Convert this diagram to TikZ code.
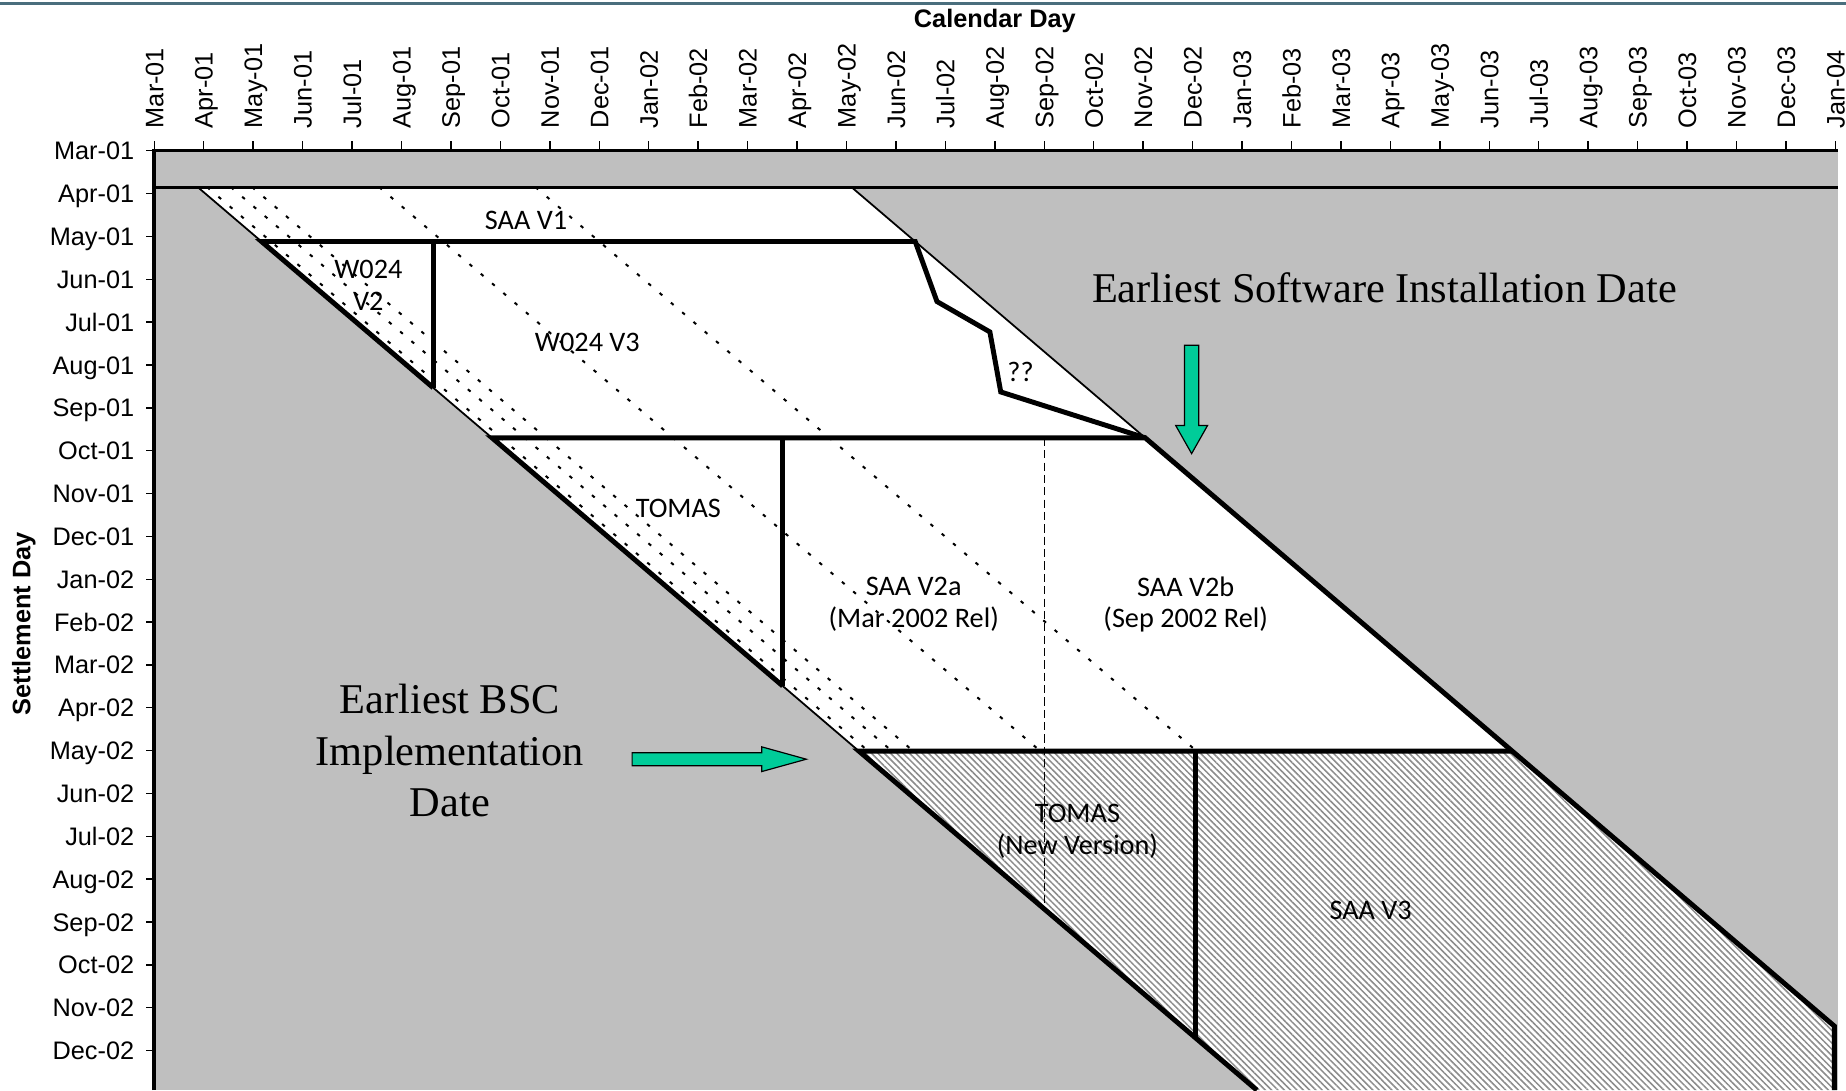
\documentclass[tikz,border=0pt]{standalone}
\usepackage{fontspec}
\usepackage{xcolor}
\usepackage{tikz}
\usetikzlibrary{
	shapes.arrows,						% Green block arrows
	patterns.meta						% Hatching of the last version area
}
\newfontfamily\axisfont{Liberation Sans}
\newfontfamily\areafont{Carlito}
\newfontfamily\notefont{Liberation Serif}
\definecolor{plotgray}{rgb}{0.75, 0.75, 0.75}
\definecolor{arrowgreen}{rgb}{0.0, 0.8, 0.6}
\definecolor{rulecolor}{rgb}{0.29, 0.43, 0.49}

\begin{document}
\begin{tikzpicture}[x=42pt, y=-36.4pt]
		\tikzstyle{slimline} = [line width=1.5pt]
		\tikzstyle{boldline} = [line width=4.2pt, line join=miter]
		\tikzstyle{dotline} = [line width=1.7pt, dash pattern=on 3pt off 9.6pt]
		\tikzstyle{tickmark} = [line width=1.2pt]
		\tikzstyle{axislabel} = [inner sep=0pt, text height=15.4pt, text depth=0pt, font=\axisfont\fontsize{21.5}{24}\selectfont]
		\tikzstyle{arealabel} = [align=center, inner sep=0pt, font=\areafont\fontsize{24}{27}\selectfont]
		\tikzstyle{notelabel} = [align=center, inner sep=0pt, font=\notefont\fontsize{36}{43.5}\selectfont]
		\tikzstyle{greenarrow} = [single arrow, draw=black, line width=1pt, fill=arrowgreen, inner xsep=0pt]
		
		\useasboundingbox (-3.119, -3.516) rectangle (34.214, 21.923);
		\draw[rulecolor, line width=3pt] (-3.119, -3.43) -- (34.214, -3.43);
		
		% Plot area
		\fill[plotgray] (0, 0) rectangle (34.05, 21.923);
		%% Corners of the band
		\coordinate (bandTopL) at (0.88, 0.85);
		\coordinate (bandTopR) at (14.10, 0.85);
		\coordinate (mayOneL) at (2.17, 2.12);
		\coordinate (mayOneR) at (15.39, 2.12);
		\coordinate (stepOne) at (15.83, 3.52);
		\coordinate (stepTwo) at (16.90, 4.23);
		\coordinate (stepThree) at (17.12, 5.63);
		\coordinate (barOneT) at (5.64, 2.12);
		\coordinate (barOneB) at (5.64, 5.53);
		\coordinate (octOneL) at (6.83, 6.70);
		\coordinate (octOneR) at (20.04, 6.70);
		\coordinate (barTwoT) at (12.71, 6.70);
		\coordinate (barTwoB) at (12.71, 12.49);
		\coordinate (sepTwoT) at (18.00, 6.70);
		\coordinate (sepTwoB) at (18.00, 17.70);
		\coordinate (mayTwoL) at (14.25, 14.01);
		\coordinate (mayTwoR) at (27.46, 14.01);
		\coordinate (barThreeT) at (21.05, 14.01);
		\coordinate (barThreeB) at (21.05, 20.70);
		\coordinate (lastR) at (33.98, 20.43);
		\coordinate (bottomR) at (33.98, 21.923);
		\coordinate (bottomL) at (22.30, 21.923);
		%% Fills
		\fill[white] (bandTopL) -- (bandTopR) -- (mayTwoR) -- (mayTwoL) -- cycle;
		\fill[white] (mayTwoL) -- (mayTwoR) -- (lastR) -- (bottomR) -- (bottomL) -- cycle;
		\fill[pattern={Lines[angle=-45, distance=3.8pt, line width=1.3pt]}, pattern color=black!45] (mayTwoL) -- (mayTwoR) -- (lastR) -- (bottomR) -- (bottomL) -- cycle;
		
		%% Dotted diagonals
		\foreach \start in {1.07, 1.55, 1.98, 4.55, 7.71}{
			\pgfmathsetmacro{\dotEnd}{\start + 13.37}
			\draw[dotline] (\start, 0.85) -- (\dotEnd, 14.01);
		}
		\draw[line width=1.2pt, dash pattern=on 7pt off 3.5pt] (sepTwoT) -- (sepTwoB);
		
		%% Thin borders
		\draw[slimline] (bandTopL) -- (mayOneL);
		\draw[slimline] (barOneB) -- (octOneL);
		\draw[slimline] (barTwoB) -- (mayTwoL);
		\draw[slimline] (bandTopR) -- (octOneR);
		\draw[line width=2.5pt] (0, 0.85) -- (34.05, 0.85);
		
		%% Thick borders
		\draw[boldline] (barOneB) -- (mayOneL) -- (mayOneR) -- (stepOne) -- (stepTwo) -- (stepThree) -- (octOneR);
		\draw[boldline] (barOneT) -- (barOneB);
		\draw[boldline] (barTwoB) -- (octOneL) -- (octOneR) -- (lastR) -- (bottomR);
		\draw[boldline] (barTwoT) -- (barTwoB);
		\draw[boldline] (bottomL) -- (mayTwoL) -- (mayTwoR);
		\draw[boldline] (barThreeT) -- (barThreeB);
		
		% Axes
		\draw[line width=3pt] (0, 21.923) -- (0, 0) -- (34.05, 0);
		%% Calendar months
		\foreach \lab [count=\idx from 0] in {Mar-01, Apr-01, May-01, Jun-01, Jul-01, Aug-01, Sep-01, Oct-01, Nov-01, Dec-01, Jan-02, Feb-02, Mar-02, Apr-02, May-02, Jun-02, Jul-02, Aug-02, Sep-02, Oct-02, Nov-02, Dec-02, Jan-03, Feb-03, Mar-03, Apr-03, May-03, Jun-03, Jul-03, Aug-03, Sep-03, Oct-03, Nov-03, Dec-03, Jan-04}{
			\draw[tickmark] (\idx, 0) -- (\idx, -0.22);
			\node[axislabel, rotate=90, anchor=west] at (\idx, -0.52) (calDay\idx) {\lab};
		}
		%% Settlement months
		\foreach \lab [count=\idx from 0] in {Mar-01, Apr-01, May-01, Jun-01, Jul-01, Aug-01, Sep-01, Oct-01, Nov-01, Dec-01, Jan-02, Feb-02, Mar-02, Apr-02, May-02, Jun-02, Jul-02, Aug-02, Sep-02, Oct-02, Nov-02, Dec-02}{
			\draw[tickmark] (0, \idx) -- (-0.17, \idx);
			\node[axislabel, anchor=east] at (-0.40, \idx) (settleDay\idx) {\lab};
		}
		%% Titles
		\node[axislabel, font=\axisfont\bfseries\fontsize{21.5}{24}\selectfont] at (17.0, -3.08) (calTitle) {Calendar Day};
		\node[axislabel, rotate=90, font=\axisfont\bfseries\fontsize{21.5}{24}\selectfont] at (-2.69, 11.04) (settleTitle) {Settlement Day};
		
		% Labels
		\node[arealabel] at (7.52, 1.62) (saaVOne) {SAA V1};
		\node[arealabel] at (4.33, 3.15) (wVTwo) {W024\\V2};
		\node[arealabel] at (8.76, 4.48) (wVThree) {W024 V3};
		\node[arealabel] at (17.52, 5.16) (unknown) {??};
		\node[arealabel] at (10.60, 8.35) (tomasOld) {TOMAS};
		\node[arealabel] at (15.36, 10.59) (saaVTwoA) {SAA V2a\\(Mar 2002 Rel)};
		\node[arealabel] at (20.86, 10.59) (saaVTwoB) {SAA V2b\\(Sep 2002 Rel)};
		\node[arealabel] at (18.67, 15.89) (tomasNew) {TOMAS\\(New Version)};
		\node[arealabel] at (24.60, 17.72) (saaVThree) {SAA V3};
		%% Dates
		\node[notelabel] at (24.88, 3.21) (installNote) {Earliest Software Installation Date};
		\node[notelabel] at (5.98, 14.0) (bscNote) {Earliest BSC\\Implementation\\Date};
		\node[greenarrow, inner ysep=5.5pt, minimum height=92pt, minimum width=26pt, single arrow head extend=7.5pt, single arrow tip angle=59, rotate=-90] at (20.98, 5.66) (installArrow) {};
		\node[greenarrow, inner ysep=5pt, minimum height=148pt, minimum width=20pt, single arrow head extend=5pt, single arrow tip angle=31] at (11.19, 14.20) (bscArrow) {};
	\end{tikzpicture}
\end{document}
